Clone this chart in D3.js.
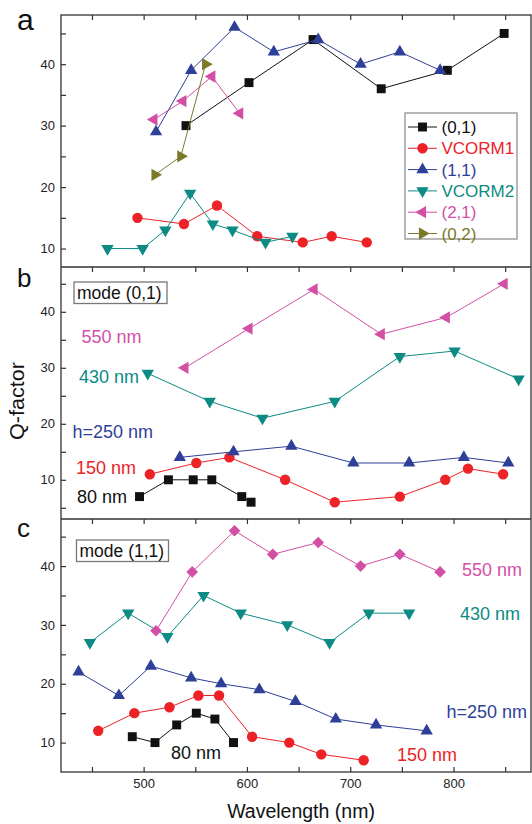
<!DOCTYPE html>
<html>
<head>
<meta charset="utf-8">
<script src="https://cdn.jsdelivr.net/npm/d3@7"></script>
<style>
  html, body { margin: 0; padding: 0; background: #fff; }
  svg { display: block; font-family: "Liberation Sans", Arial, sans-serif; }
</style>
</head>
<body>
<svg id="chart" width="532" height="824"></svg>
<script>
// ---------- DATA ----------
// Panel a
const a01_x = [541, 602, 664, 730, 794, 849];
const a01_y = [30, 37, 44, 36, 39, 45];
const aV1_x = [494, 539, 571, 610, 654, 682, 716];
const aV1_y = [15, 14, 17, 12, 11, 12, 11];
const a11_x = [512, 546, 588, 626, 669, 710, 748, 787];
const a11_y = [29, 39, 46, 42, 44, 40, 42, 39];
const aV2_x = [465, 499, 521, 545, 567, 586, 618, 644];
const aV2_y = [10, 10, 13, 19, 14, 13, 11, 12];
const a21_x = [510, 538, 566, 593];
const a21_y = [31, 34, 38, 32];
const a02_x = [511, 536, 560];
const a02_y = [22, 25, 40];
const legendLabels = ["(0,1)", "VCORM1", "(1,1)", "VCORM2", "(2,1)", "(0,2)"];

// Panel b (mode (0,1))
const b80_x = [496, 524, 548, 566, 595, 604];
const b80_y = [7, 10, 10, 10, 7, 6];
const b150_x = [506, 551, 583, 637, 685, 748, 792, 814, 848];
const b150_y = [11, 13, 14, 10, 6, 7, 10, 12, 11];
const b250_x = [535, 587, 643, 703, 757, 810, 853];
const b250_y = [14, 15, 16, 13, 13, 14, 13];
const b430_x = [504, 564, 615, 685, 748, 801, 863];
const b430_y = [29, 24, 21, 24, 32, 33, 28];
const b550_x = [540, 602, 665, 730, 793, 849];
const b550_y = [30, 37, 44, 36, 39, 45];

// Panel c (mode (1,1))
const c80_x = [489, 511, 532, 551, 569, 587];
const c80_y = [11, 10, 13, 15, 14, 10];
const c150_x = [456, 491, 525, 553, 573, 605, 641, 672, 713];
const c150_y = [12, 15, 16, 18, 18, 11, 10, 8, 7];
const c250_x = [437, 476, 507, 546, 575, 612, 647, 686, 725, 774];
const c250_y = [22, 18, 23, 21, 20, 19, 17, 14, 13, 12];
const c430_x = [448, 485, 523, 558, 594, 639, 680, 718, 757];
const c430_y = [27, 32, 28, 35, 32, 30, 27, 32, 32];
const c550_x = [512, 547, 588, 625, 669, 710, 748, 787];
const c550_y = [29, 39, 46, 42, 44, 40, 42, 39];

const xTicks = [450, 500, 550, 600, 650, 700, 750, 800, 850];
const xTickLabels = [500, 600, 700, 800];
const yTicks = [5, 10, 15, 20, 25, 30, 35, 40, 45];
const yTickLabels = [10, 20, 30, 40];

// ---------- STYLE ----------
const C = {
  black: "#111111", red: "#ec2227", blue: "#2e3f98",
  teal: "#0c8a84", magenta: "#d34fa6", olive: "#7b7a2a"
};

const svg = d3.select("#chart");
const X0 = 61, X1 = 531;
const x = d3.scaleLinear().domain([420, 875]).range([X0, X1]);

const panels = [
  { key: "a", top: 15, bottom: 267, domain: [7, 48] },
  { key: "b", top: 267, bottom: 519, domain: [3, 48] },
  { key: "c", top: 519, bottom: 772, domain: [5, 48] }
];
panels.forEach(p => { p.y = d3.scaleLinear().domain(p.domain).range([p.bottom, p.top]); });

function sym(type, size, rot) {
  return { path: d3.symbol().type(type).size(size)(), rot: rot || 0 };
}
const M = {
  square: sym(d3.symbolSquare, 80),
  circle: sym(d3.symbolCircle, 85),
  up: sym(d3.symbolTriangle, 66, 0),
  down: sym(d3.symbolTriangle, 66, 180),
  left: sym(d3.symbolTriangle, 66, -90),
  right: sym(d3.symbolTriangle, 66, 90),
  diamond: sym(d3.symbolSquare, 68, 45)
};

function drawSeries(p, xs, ys, color, marker) {
  const pts = xs.map((v, i) => [v, ys[i]]);
  const g = svg.append("g");
  g.append("path")
    .attr("d", d3.line().x(d => x(d[0])).y(d => p.y(d[1]))(pts))
    .attr("fill", "none").attr("stroke", color).attr("stroke-width", 1);
  g.selectAll("path.m").data(pts).enter().append("path")
    .attr("class", "m")
    .attr("d", M[marker].path)
    .attr("transform", d => `translate(${x(d[0])},${p.y(d[1])}) rotate(${M[marker].rot})`)
    .attr("fill", color);
}

// ---------- AXES & FRAME ----------
panels.forEach((p, i) => {
  const top = svg.append("g").attr("transform", `translate(0,${p.top})`)
    .call(d3.axisTop(x).tickValues(xTicks).tickSize(-5).tickFormat(""));
  top.select(".domain").remove();
  top.selectAll("line").attr("stroke", "#333").attr("stroke-width", 1.2);

  const left = svg.append("g").attr("transform", `translate(${X0},0)`)
    .call(d3.axisLeft(p.y)
      .tickValues(yTicks.filter(t => t > p.domain[0] && t < p.domain[1]))
      .tickSize(-5).tickPadding(6)
      .tickFormat(t => yTickLabels.includes(t) ? t : ""));
  left.select(".domain").remove();
  left.selectAll("line").attr("stroke", "#333").attr("stroke-width", 1.2);
  left.selectAll("text").attr("font-size", 13).attr("fill", "#222")
    .attr("font-family", "Liberation Sans, Arial, sans-serif");
});
const bottom = svg.append("g").attr("transform", `translate(0,${panels[2].bottom})`)
  .call(d3.axisBottom(x).tickValues(xTicks).tickSize(-5).tickPadding(7)
    .tickFormat(t => xTickLabels.includes(t) ? t : ""));
bottom.select(".domain").remove();
bottom.selectAll("line").attr("stroke", "#333").attr("stroke-width", 1.2);
bottom.selectAll("text").attr("font-size", 13).attr("fill", "#222")
  .attr("font-family", "Liberation Sans, Arial, sans-serif");

svg.append("rect").attr("x", X0).attr("y", panels[0].top)
  .attr("width", X1 - X0).attr("height", panels[2].bottom - panels[0].top)
  .attr("fill", "none").attr("stroke", "#333").attr("stroke-width", 1.3);
[panels[0].bottom, panels[1].bottom].forEach(yy => {
  svg.append("line").attr("x1", X0).attr("x2", X1).attr("y1", yy).attr("y2", yy)
    .attr("stroke", "#333").attr("stroke-width", 1.3);
});

// ---------- PANEL A ----------
const pa = panels[0];
drawSeries(pa, a01_x, a01_y, C.black, "square");
drawSeries(pa, aV1_x, aV1_y, C.red, "circle");
drawSeries(pa, a11_x, a11_y, C.blue, "up");
drawSeries(pa, aV2_x, aV2_y, C.teal, "down");
drawSeries(pa, a21_x, a21_y, C.magenta, "left");
drawSeries(pa, a02_x, a02_y, C.olive, "right");

// legend
const legColors = [C.black, C.red, C.blue, C.teal, C.magenta, C.olive];
const legMarkers = ["square", "circle", "up", "down", "left", "right"];
const leg = svg.append("g");
leg.append("rect").attr("x", 405).attr("y", 113).attr("width", 112).attr("height", 126)
  .attr("fill", "#fff").attr("stroke", "#888").attr("stroke-width", 1.2);
legendLabels.forEach((lab, i) => {
  const yy = 127 + i * 21.3;
  leg.append("line").attr("x1", 408).attr("x2", 437).attr("y1", yy).attr("y2", yy)
    .attr("stroke", legColors[i]).attr("stroke-width", 1);
  leg.append("path").attr("d", M[legMarkers[i]].path)
    .attr("transform", `translate(422.5,${yy}) rotate(${M[legMarkers[i]].rot})`)
    .attr("fill", legColors[i]);
  leg.append("text").attr("x", 441.5).attr("y", yy + 6).attr("font-size", 17)
    .attr("fill", legColors[i]).text(lab);
});

// ---------- PANEL B ----------
const pb = panels[1];
drawSeries(pb, b80_x, b80_y, C.black, "square");
drawSeries(pb, b150_x, b150_y, C.red, "circle");
drawSeries(pb, b250_x, b250_y, C.blue, "up");
drawSeries(pb, b430_x, b430_y, C.teal, "down");
drawSeries(pb, b550_x, b550_y, C.magenta, "left");

// ---------- PANEL C ----------
const pc = panels[2];
drawSeries(pc, c80_x, c80_y, C.black, "square");
drawSeries(pc, c150_x, c150_y, C.red, "circle");
drawSeries(pc, c250_x, c250_y, C.blue, "up");
drawSeries(pc, c430_x, c430_y, C.teal, "down");
drawSeries(pc, c550_x, c550_y, C.magenta, "diamond");

// ---------- ANNOTATIONS ----------
function label(txt, xx, yy, color, size) {
  svg.append("text").attr("x", xx).attr("y", yy).attr("font-size", size || 18)
    .attr("fill", color).text(txt);
}
function modeBox(txt, x0, y0, w, h) {
  svg.append("rect").attr("x", x0).attr("y", y0).attr("width", w).attr("height", h)
    .attr("fill", "#fff").attr("stroke", "#777").attr("stroke-width", 1.3);
  label(txt, x0 + 3, y0 + h - 5, "#111", 17.5);
}
modeBox("mode (0,1)", 74, 282, 93, 21.5);
label("550 nm", 81.5, 342.5, C.magenta);
label("430 nm", 79, 382.5, C.teal);
label("h=250 nm", 72.5, 437.5, C.blue);
label("150 nm", 76, 474, C.red);
label("80 nm", 77, 502.5, C.black);

modeBox("mode (1,1)", 76.5, 540, 92, 21.5);
label("550 nm", 462, 576, C.magenta);
label("430 nm", 460, 620, C.teal);
label("h=250 nm", 446.5, 717.5, C.blue);
label("150 nm", 397, 761, C.red);
label("80 nm", 171, 759, C.black);

// panel letters
label("a", 17, 30, "#111", 30);
label("b", 17, 287, "#111", 26);
label("c", 17, 537, "#111", 26);

// axis titles
svg.append("text").attr("transform", "translate(24,401) rotate(-90)")
  .attr("text-anchor", "middle").attr("font-size", 20).attr("fill", "#111")
  .attr("textLength", 78).attr("lengthAdjust", "spacingAndGlyphs").text("Q-factor");
svg.append("text").attr("x", 301).attr("y", 818).attr("text-anchor", "middle")
  .attr("font-size", 19.5).attr("fill", "#111").text("Wavelength (nm)");
</script>
</body>
</html>
